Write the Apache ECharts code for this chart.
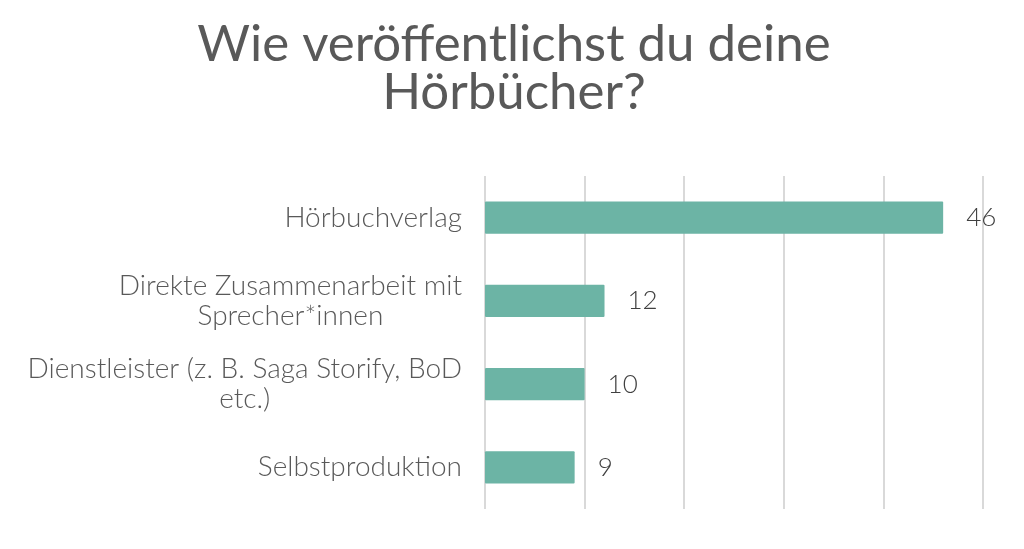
<!DOCTYPE html>
<html>
<head>
<meta charset="utf-8">
<script src="https://cdn.jsdelivr.net/npm/echarts@6/dist/echarts.min.js"></script>
<style>
html,body{margin:0;padding:0;background:#fff;}
#main{width:1024px;height:549px;}
</style>
</head>
<body>
<div id="main"></div>
<script>
const titleText = 'Wie veröffentlichst du deine\nHörbücher?';
const categories = [
  'Hörbuchverlag',
  'Direkte Zusammenarbeit mit\nSprecher*innen',
  'Dienstleister (z. B. Saga Storify, BoD\netc.)',
  'Selbstproduktion'
];
const values = [46, 12, 10, 9];
const xTicks = [0, 10, 20, 30, 40, 50];

const chart = echarts.init(document.getElementById('main'));
chart.setOption({
  backgroundColor: '#ffffff',
  animation: false,
  title: {
    text: titleText,
    left: 509,
    top: 16,
    textAlign: 'center',
    textStyle: {
      fontFamily: 'Lato',
      fontSize: 51,
      fontWeight: 'normal',
      color: '#595959',
      lineHeight: 48
    }
  },
  grid: {
    left: 485,
    right: 41,
    top: 176,
    bottom: 40,
    containLabel: false
  },
  xAxis: {
    type: 'value',
    min: xTicks[0],
    max: xTicks[xTicks.length - 1],
    interval: 10,
    axisLine: { show: false },
    axisTick: { show: false },
    axisLabel: { show: false },
    splitLine: { show: true, lineStyle: { color: '#d9d9d9', width: 2 } }
  },
  yAxis: {
    type: 'category',
    data: categories,
    inverse: true,
    axisLine: { show: false },
    axisTick: { show: false },
    axisLabel: {
      margin: 23,
      align: 'right',
      formatter: function (v) {
        return v.split('\n').map(function (s) { return '{c|' + s + '}'; }).join('\n');
      },
      rich: {
        c: {
          align: 'center',
          fontFamily: 'Lato',
          fontWeight: 300,
          fontSize: 28,
          lineHeight: 30,
          color: '#595959'
        }
      }
    }
  },
  series: [{
    type: 'bar',
    data: values,
    barCategoryGap: '61.5%',
    itemStyle: { color: '#6cb4a5', borderRadius: 1 },
    label: {
      show: true,
      position: 'right',
      distance: 23,
      fontFamily: 'Lato',
      fontWeight: 300,
      fontSize: 26,
      color: '#404040'
    }
  }]
});
</script>
</body>
</html>
